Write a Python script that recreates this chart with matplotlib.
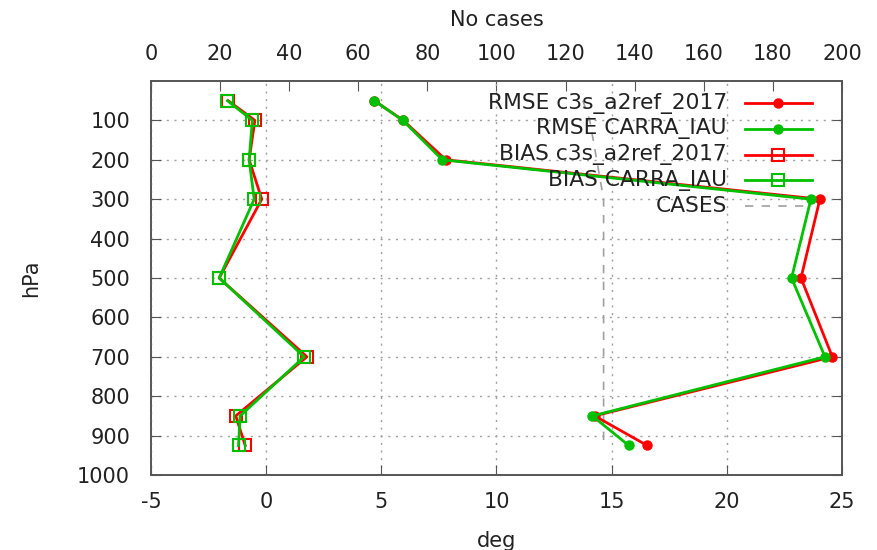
import matplotlib
matplotlib.use("Agg")
import matplotlib.pyplot as plt
from matplotlib.lines import Line2D

levels = [50, 100, 200, 300, 500, 700, 850, 925]
rmse_c3s = [4.70, 5.95, 7.80, 24.04, 23.22, 24.58, 14.26, 16.54]
rmse_carra = [4.70, 5.93, 7.65, 23.65, 22.81, 24.26, 14.16, 15.74]
bias_c3s = [-1.65, -0.49, -0.74, -0.19, -2.04, 1.77, -1.32, -0.91]
bias_carra = [-1.68, -0.60, -0.74, -0.52, -2.04, 1.65, -1.13, -1.20]
cases = [125, 127, 129, 131, 131, 131, 131, 131]

red = '#ff0000'
green = '#00c000'
grey = '#a0a0a0'
txt = '#222222'

plt.rcParams['font.family'] = 'DejaVu Sans'
plt.rcParams['font.size'] = 15
plt.rcParams['axes.unicode_minus'] = False

W, H = 878, 550
fig = plt.figure(figsize=(W / 100, H / 100), dpi=100)
ax = fig.add_axes([151 / W, 1 - 475 / H, (842 - 151) / W, (475 - 81) / H])

styles = [
    dict(color=red, lw=2, marker='o', ms=6.5),
    dict(color=green, lw=2, marker='o', ms=6.5),
    dict(color=red, lw=2, marker='s', ms=8, mfc='none', mew=1.5),
    dict(color=green, lw=2, marker='s', ms=8, mfc='none', mew=1.5),
]
names = ['RMSE c3s_a2ref_2017', 'RMSE CARRA_IAU', 'BIAS c3s_a2ref_2017', 'BIAS CARRA_IAU']

for vals, st in zip([rmse_c3s, rmse_carra, bias_c3s, bias_carra], styles):
    ax.plot(vals, levels, **st)

ax.set_xlim(-5, 25)
ax.set_ylim(1000, 0)
ax.set_xticks(range(-5, 26, 5))
ax.set_yticks(range(100, 1001, 100))
ax.set_xlabel('deg', color=txt, labelpad=14)
ax.set_ylabel('hPa', color=txt, labelpad=26)
ax.grid(True, linestyle=(0, (1.5, 4)), color=grey, lw=1)
ax.tick_params(direction='in', length=7, colors='#555555', labelcolor=txt, pad=12,
               right=True)
ax.tick_params(axis='y', pad=15)

ax2 = ax.twiny()
ax2.plot(cases, levels, color=grey, lw=1.2, ls=(0, (5, 5)), zorder=1)
ax2.set_xlim(0, 200)
ax2.set_xticks(range(0, 201, 20))
ax2.set_xlabel('No cases', color=txt, labelpad=13)
ax2.tick_params(direction='in', length=7, colors='#555555', labelcolor=txt, pad=12)
ax.set_zorder(ax2.get_zorder() + 1)
ax.patch.set_visible(False)

for a in (ax, ax2):
    for s in a.spines.values():
        s.set_color('#555555')
        s.set_linewidth(1.2)

# legend drawn by hand: text right aligned, sample to the right (gnuplot style)
leg_styles = styles + [dict(color=grey, lw=1.2, ls=(0, (5, 5)))]
leg_names = names + ['CASES']
for i, (nm, st) in enumerate(zip(leg_names, leg_styles)):
    yy = 1 - (103 + i * 25.8) / H
    fig.text(727 / W, yy, nm, ha='right', va='center', color=txt, fontsize=15.7)
    ln = Line2D([745 / W, 812 / W], [yy, yy], transform=fig.transFigure,
                markevery=[], **st)
    fig.add_artist(ln)
    if 'marker' in st:
        mk = Line2D([778.5 / W], [yy], transform=fig.transFigure, **st)
        fig.add_artist(mk)

fig.savefig('out.png', dpi=100)
